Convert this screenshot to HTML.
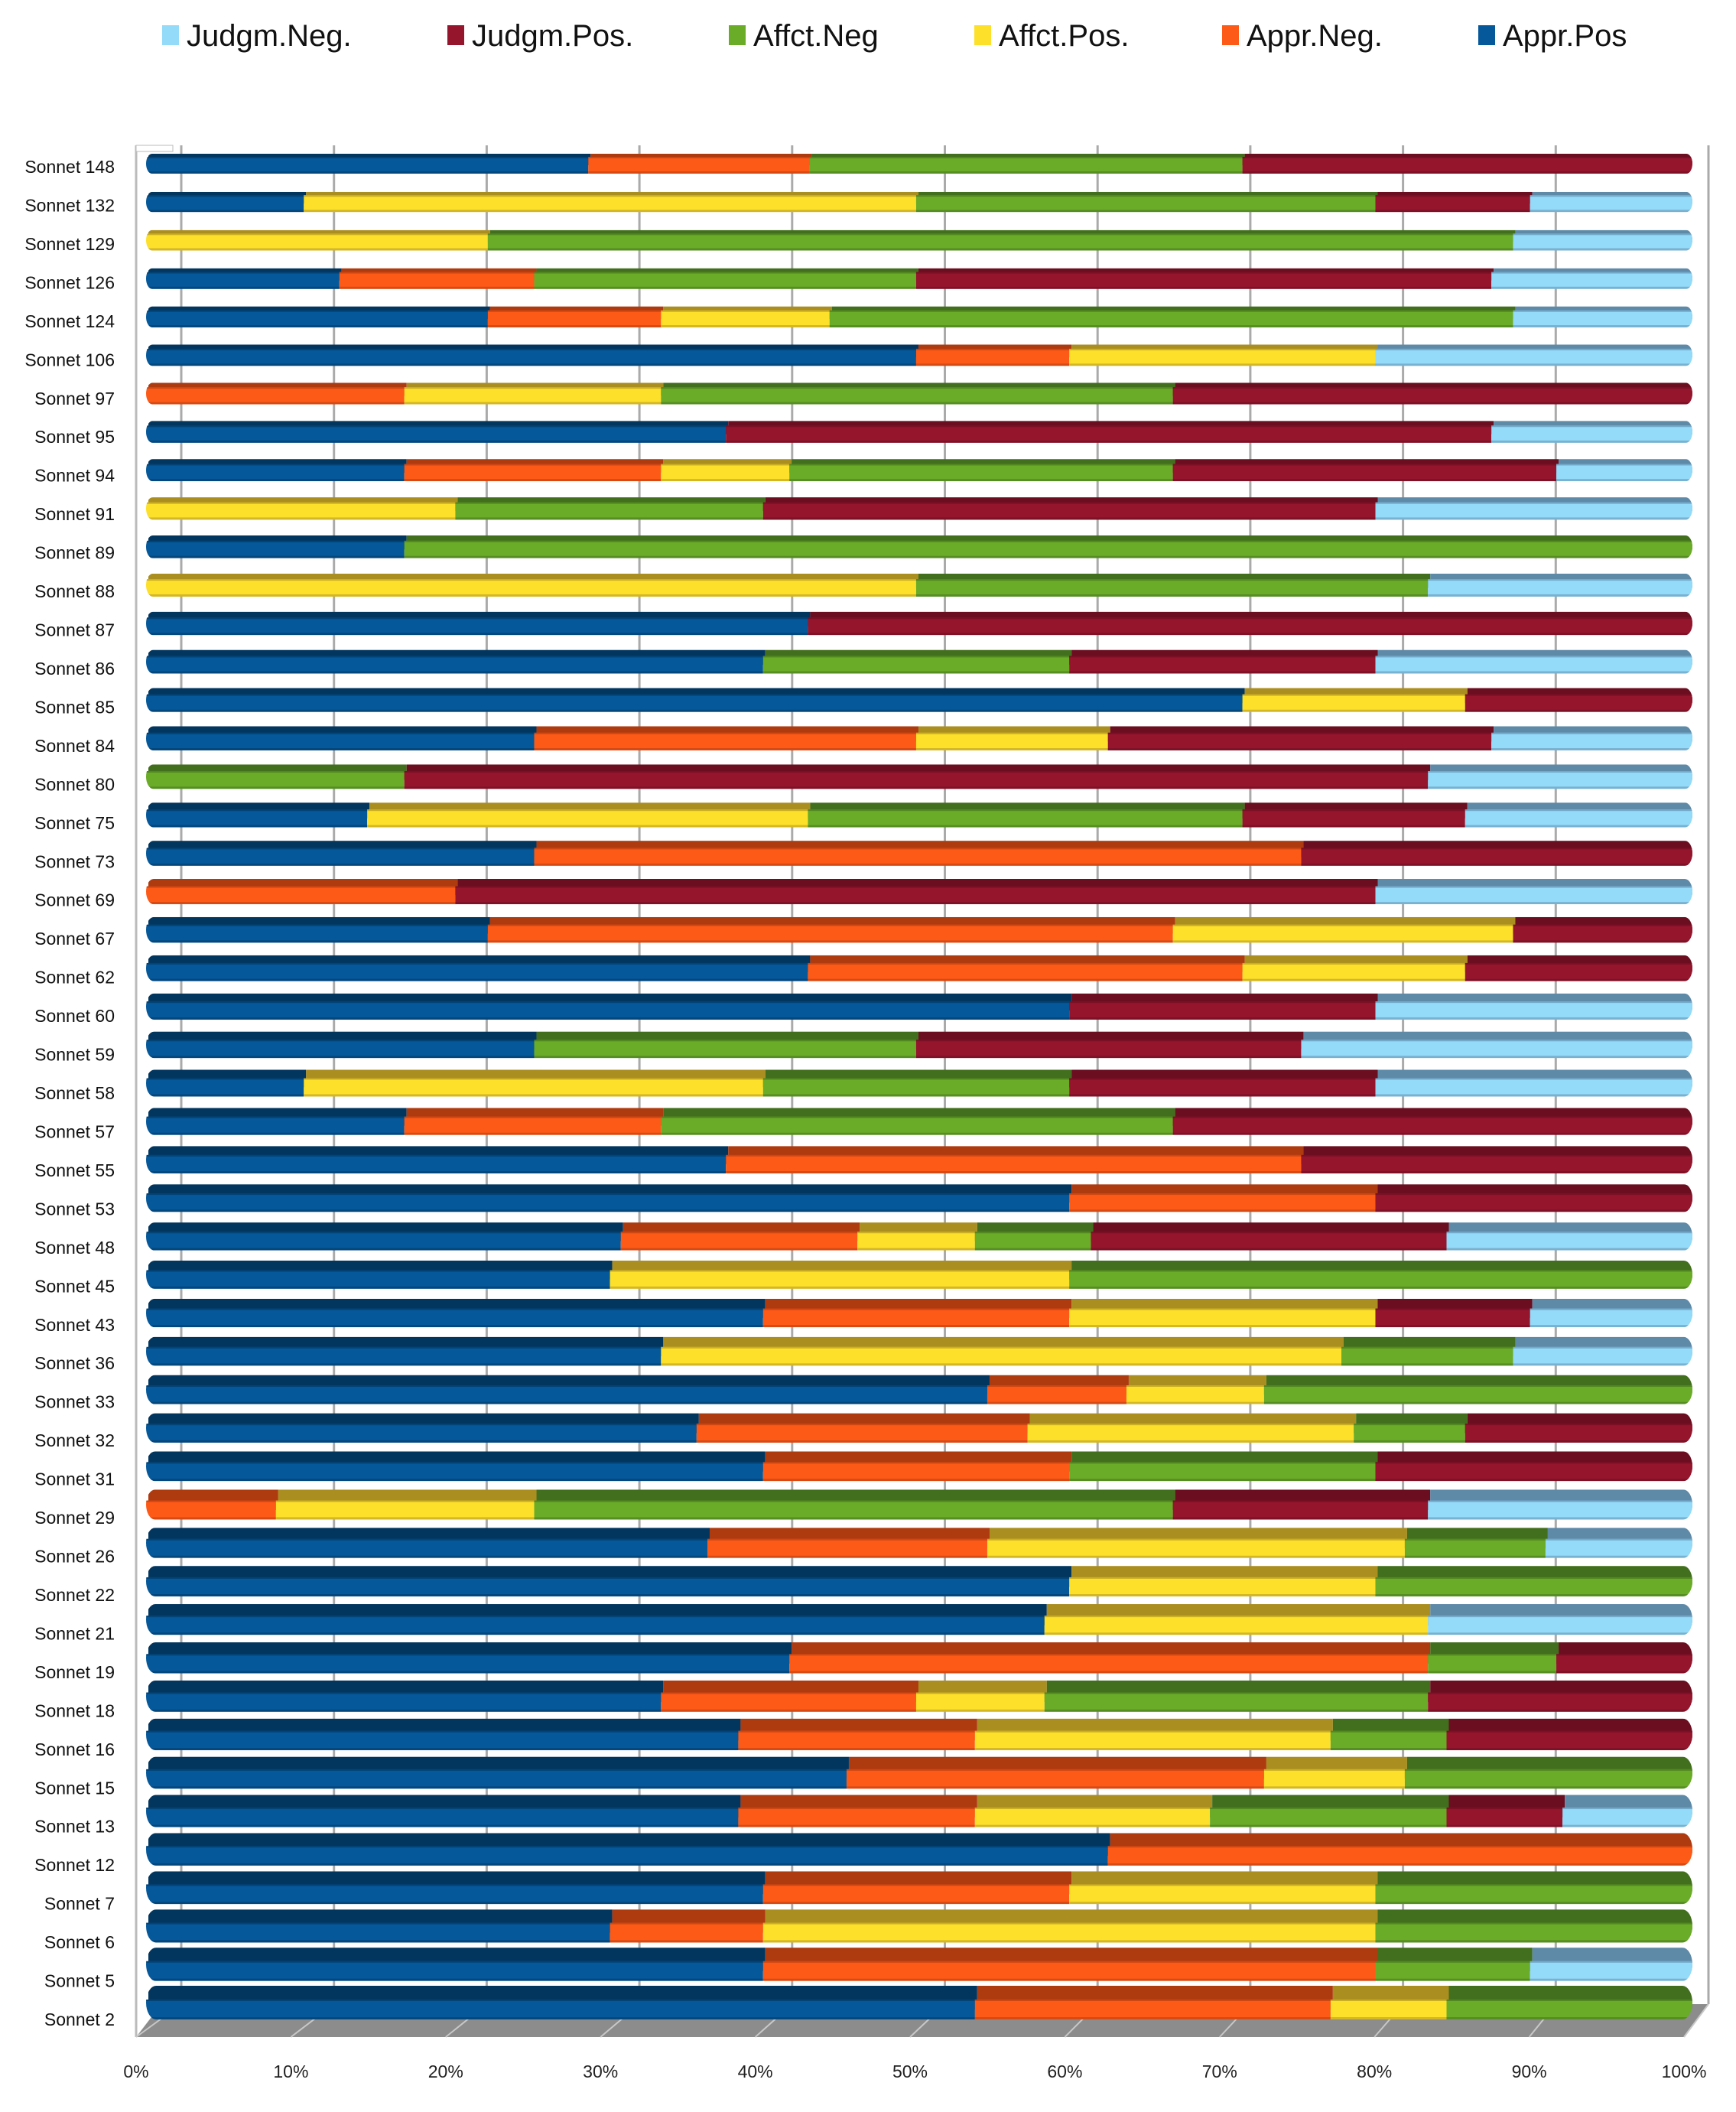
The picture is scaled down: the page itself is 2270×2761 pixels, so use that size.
<!DOCTYPE html>
<html><head><meta charset="utf-8"><style>
html,body{margin:0;padding:0;background:#fff;}
svg{display:block;font-family:"Liberation Sans",sans-serif;}
</style></head><body>
<svg id="chart" width="2270" height="2761" viewBox="0 0 2270 2761" xmlns="http://www.w3.org/2000/svg"><defs id="defs"></defs></svg>
<script>
const categories=["Sonnet 148","Sonnet 132","Sonnet 129","Sonnet 126","Sonnet 124","Sonnet 106","Sonnet 97","Sonnet 95","Sonnet 94","Sonnet 91","Sonnet 89","Sonnet 88","Sonnet 87","Sonnet 86","Sonnet 85","Sonnet 84","Sonnet 80","Sonnet 75","Sonnet 73","Sonnet 69","Sonnet 67","Sonnet 62","Sonnet 60","Sonnet 59","Sonnet 58","Sonnet 57","Sonnet 55","Sonnet 53","Sonnet 48","Sonnet 45","Sonnet 43","Sonnet 36","Sonnet 33","Sonnet 32","Sonnet 31","Sonnet 29","Sonnet 26","Sonnet 22","Sonnet 21","Sonnet 19","Sonnet 18","Sonnet 16","Sonnet 15","Sonnet 13","Sonnet 12","Sonnet 7","Sonnet 6","Sonnet 5","Sonnet 2"];
const apprPos=[28.6,10.2,0,12.5,22.1,49.8,0,37.5,16.7,0,16.7,0,42.8,39.9,70.9,25.1,0,14.3,25.1,0,22.1,42.8,59.7,25.1,10.2,16.7,37.5,59.7,30.7,30,39.9,33.3,54.4,35.6,39.9,0,36.3,59.7,58.1,41.6,33.3,38.3,45.3,38.3,62.2,39.9,30,39.9,53.6];
const apprNeg=[14.3,0,0,12.6,11.2,9.9,16.7,0,16.6,0,0,0,0,0,0,24.7,0,0,49.6,20,44.3,28.1,0,0,0,16.6,37.2,19.8,15.3,0,19.8,0,9,21.4,19.8,8.4,18.1,0,0,41.3,16.5,15.3,27,15.3,37.8,19.8,9.9,39.6,23];
const affctPos=[0,39.6,22.1,0,10.9,19.8,16.6,0,8.3,20,0,49.8,0,0,14.4,12.4,0,28.5,0,0,22,14.4,0,0,29.7,0,0,0,7.6,29.7,19.8,44,8.9,21.1,0,16.7,27,19.8,24.8,0,8.3,23,9.1,15.2,0,19.8,39.6,0,7.5];
const affctNeg=[28,29.7,66.3,24.7,44.2,0,33.1,0,24.8,19.9,83.3,33.1,0,19.8,0,0,16.7,28.1,0,0,0,0,0,24.7,19.8,33.1,0,0,7.5,40.3,0,11.1,27.7,7.2,19.8,41.3,9.1,20.5,0,8.3,24.8,7.5,18.6,15.3,0,20.5,20.5,10,15.9];
const judgmPos=[29.1,10,0,37.2,0,0,33.6,49.5,24.8,39.6,0,0,57.2,19.8,14.7,24.8,66.2,14.4,25.3,59.5,11.6,14.7,19.8,24.9,19.8,33.6,25.3,20.5,23,0,10,0,0,14.7,20.5,16.5,0,0,0,8.8,17.1,15.9,0,7.5,0,0,0,0,0];
const judgmNeg=[0,10.5,11.6,13,11.6,20.5,0,13,8.8,20.5,0,17.1,0,20.5,0,13,17.1,14.7,0,20.5,0,0,20.5,25.3,20.5,0,0,0,15.9,0,10.5,11.6,0,0,0,17.1,9.5,0,17.1,0,0,0,0,8.4,0,0,0,10.5,0];
const seriesNames=["Appr.Pos","Appr.Neg","Affct.Pos","Affct.Neg","Judgm.Pos","Judgm.Neg"];
const tickLabels=["0%","10%","20%","30%","40%","50%","60%","70%","80%","90%","100%"];
const legendNames=["Judgm.Neg.","Judgm.Pos.","Affct.Neg","Affct.Pos.","Appr.Neg.","Appr.Pos"];

const NS="http://www.w3.org/2000/svg";
const svg=document.getElementById('chart');
const defs=document.getElementById('defs');
function mk(t,a,p){const e=document.createElementNS(NS,t);for(const k in a)e.setAttribute(k,a[k]);(p||svg).appendChild(e);return e;}
const front=["#05589a","#fe5a17","#fde02a","#6aac28","#95152d","#94daf9"];
const topc=["#02365f","#ae3a10","#aa8e20","#426f1d","#6a0e20","#5e8aa8"];
const series=[apprPos,apprNeg,affctPos,affctNeg,judgmPos,judgmNeg];
const n=categories.length;
const xBar=v=>191+(2213-191)*v/100;
const xBack=v=>237+(2234-237)*v/100;
const xFront=v=>178+(2202-178)*v/100;
const yLabel=i=>218+(2640-218)*i/(n-1);

const wall=mk('g',{});


mk('line',{x1:178,y1:190,x2:178,y2:2663,stroke:'#bbb','stroke-width':3},wall);
mk('line',{x1:2234,y1:190,x2:2234,y2:2620,stroke:'#bbb','stroke-width':3},wall);
mk('rect',{x:178,y:190,width:48,height:8,fill:'#fff',stroke:'#bbb','stroke-width':1},wall);
const grid=mk('g',{});


for(let k=0;k<tickLabels.length;k++){
  const gl=mk('line',{x1:xBack(k*10),y1:190,x2:xBack(k*10),y2:2620,stroke:'#aaa','stroke-width':3},grid);
  
  
}
const floor=mk('polygon',{points:'178,2663 2202,2663 2234,2620 211,2620',fill:'#8c8c8c'});


for(let k=0;k<tickLabels.length;k++){
  mk('line',{x1:xFront(k*10),y1:2663,x2:xBack(k*10),y2:2620,stroke:'#c8c8c8','stroke-width':2});
}
for(let i=0;i<n;i++){
  const t=i/(n-1);
  const fh=22+4*t, th=4+14*t;
  const fc=yLabel(i)-2-11*t;
  const fy=fc-fh/2, ty=fy-th;
  const cp=mk('clipPath',{id:'cp'+i},defs);
  const r=(fh+th)/2;
  mk('rect',{x:xBar(0),y:ty,width:xBar(100)-xBar(0),height:fh+th,rx:r*0.6,ry:r},cp);
  const g=mk('g',{'clip-path':'url(#cp'+i+')'});
  
  
  let acc=0;
  for(let s=0;s<series.length;s++){
    const v=series[s][i]; if(!v) continue;
    const x0=xBar(acc), x1=xBar(acc+v); acc+=v;
    const seg=mk('g',{},g);
    
    
    mk('rect',{x:x0+3,y:ty,width:Math.max(x1-x0,1),height:th+fh/2,fill:topc[s]},seg);
    mk('rect',{x:x0,y:fy,width:x1-x0,height:fh,fill:front[s]},seg);
    mk('rect',{x:x0,y:fy,width:x1-x0,height:2,fill:topc[s],opacity:0.6},seg);
    mk('rect',{x:x0,y:fy+fh-3,width:x1-x0,height:3,fill:topc[s],opacity:0.5},seg);
  }
  const lab=mk('text',{x:150,y:yLabel(i)+8,'font-size':23,'text-anchor':'end',fill:'#111'});
  lab.textContent=categories[i];
  
  
}
for(let k=0;k<tickLabels.length;k++){
  const tl=mk('text',{x:xFront(k*10),y:2716,'font-size':23,'text-anchor':'middle',fill:'#222'});
  tl.textContent=tickLabels[k];
  
  
}
const legX=[212,585,953,1274,1598,1933];
const legC=["#94daf9","#95152d","#6aac28","#fde02a","#fe5a17","#05589a"];
for(let k=0;k<legendNames.length;k++){
  const lg=mk('g',{});
  
  
  mk('rect',{x:legX[k],y:33,width:22,height:26,fill:legC[k]},lg);
  const tx=mk('text',{x:legX[k]+32,y:60,'font-size':40,fill:'#111'},lg);
  tx.textContent=legendNames[k];
}
</script>
</body></html>
